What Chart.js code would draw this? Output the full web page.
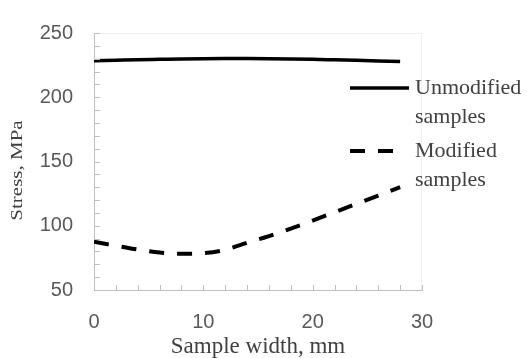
<!DOCTYPE html>
<html>
<head>
<meta charset="utf-8">
<script src="https://cdn.jsdelivr.net/npm/chart.js@4/dist/chart.umd.min.js"></script>
<style>
  html, body { margin: 0; padding: 0; background: #fff; }
  #wrap { width: 527px; height: 358px; }
</style>
</head>
<body>
<div id="wrap"><canvas id="lineChart" width="527" height="358"></canvas></div>
<script>
var widths = [0, 2, 4, 6, 8, 10, 12, 14, 16, 18, 20, 22, 24, 26, 28];
var unmodified = [228.4, 228.8, 229.2, 229.5, 229.8, 230, 230.1, 230.1, 230, 229.8, 229.5, 229.1, 228.7, 228.3, 227.9];
var modified = [87.5, 84.5, 81.5, 79.2, 78.2, 78.7, 81.3, 86.8, 92, 97.8, 104, 110.5, 117, 123.5, 130];
var seriesLabels = [['Unmodified', 'samples'], ['Modified', 'samples']];
var xLabels = [0, 10, 20, 30];
var yLabels = [50, 100, 150, 200, 250];
var yTitle = 'Stress, MPa';

var serif = '"Liberation Serif", "Times New Roman", serif';
var sans = '"Liberation Sans", Arial, sans-serif';

function toPoints(values) {
    return values.map(function(v, i) {
        return { x: widths[i], y: v };
    });
}

// small inward tick marks, faint frame and the y title
var tickMarks = {
    id: 'tickMarks',
    afterDraw: function(chart) {
        var ctx = chart.ctx;
        var xs = chart.scales.x, ys = chart.scales.y;
        var area = chart.chartArea;
        ctx.save();
        ctx.strokeStyle = '#f0f0f0';
        ctx.lineWidth = 1;
        ctx.beginPath();
        ctx.moveTo(area.left, area.top + 0.5);
        ctx.lineTo(area.right - 0.5, area.top + 0.5);
        ctx.lineTo(area.right - 0.5, area.bottom);
        ctx.stroke();

        ctx.strokeStyle = '#bfbfbf';
        ctx.beginPath();
        for (var v = 50; v <= 250; v += 10) {
            var py = Math.round(ys.getPixelForValue(v)) + 0.5;
            ctx.moveTo(area.left, py);
            ctx.lineTo(area.left + 6, py);
        }
        for (var w = 0; w <= 30; w += 2) {
            var px = Math.round(xs.getPixelForValue(w)) + 0.5;
            ctx.moveTo(px, area.bottom);
            ctx.lineTo(px, area.bottom - 5);
        }
        ctx.stroke();

        // y title sits a bit below the middle in the original
        ctx.translate(18, 170.5);
        ctx.rotate(-Math.PI / 2);
        ctx.scale(1, 0.8);
        ctx.fillStyle = '#404040';
        ctx.font = '21px ' + serif;
        ctx.textAlign = 'center';
        ctx.textBaseline = 'middle';
        ctx.fillText(yTitle, 0, 0);
        ctx.restore();
    }
};

// legend on the right, drawn from dataset styles
var sideLegend = {
    id: 'sideLegend',
    afterDraw: function(chart) {
        var ctx = chart.ctx;
        var rows = [88, 151];
        ctx.save();
        chart.data.datasets.forEach(function(ds, i) {
            var y = rows[i];
            ctx.strokeStyle = ds.borderColor;
            ctx.lineWidth = ds.borderWidth;
            ctx.setLineDash(ds.borderDash || []);
            ctx.beginPath();
            ctx.moveTo(350, y);
            ctx.lineTo(i === 0 ? 409 : 397, y);
            ctx.stroke();
            ctx.setLineDash([]);
            ctx.fillStyle = '#404040';
            ctx.font = '22px ' + serif;
            ctx.textBaseline = 'middle';
            ctx.textAlign = 'left';
            ds.label.forEach(function(line, j) {
                ctx.fillText(line, 415, y + j * 29);
            });
        });
        ctx.restore();
    }
};

var ctx = document.getElementById('lineChart').getContext('2d');

var myChart = new Chart(ctx, {
    type: 'line',
    data: {
        datasets: [{
            label: seriesLabels[0],
            data: toPoints(unmodified),
            borderColor: '#000000',
            borderWidth: 3.5,
            pointRadius: 0,
            cubicInterpolationMode: 'monotone',
            fill: false
        }, {
            label: seriesLabels[1],
            data: toPoints(modified),
            borderColor: '#000000',
            borderWidth: 4,
            borderDash: [15, 13],
            pointRadius: 0,
            cubicInterpolationMode: 'monotone',
            fill: false
        }]
    },
    options: {
        responsive: false,
        animation: false,
        events: [],
        layout: {
            padding: { left: 0, top: 21, right: 105, bottom: 0 }
        },
        plugins: {
            legend: { display: false },
            tooltip: { enabled: false }
        },
        scales: {
            x: {
                type: 'linear',
                min: 0,
                max: 30,
                afterBuildTicks: function(scale) {
                    scale.ticks = xLabels.map(function(v) { return { value: v }; });
                },
                afterFit: function(scale) { scale.height = 68; },
                grid: { display: true, drawOnChartArea: false, drawTicks: false },
                border: { display: true, color: '#bfbfbf', width: 1 },
                ticks: {
                    padding: 20,
                    color: '#595959',
                    font: { family: sans, size: 20 },
                    maxRotation: 0
                },
                title: {
                    display: true,
                    text: 'Sample width, mm',
                    color: '#404040',
                    font: { family: serif, size: 23, lineHeight: 1 },
                    padding: { top: 0, bottom: 0 }
                }
            },
            y: {
                min: 50,
                max: 250,
                afterBuildTicks: function(scale) {
                    scale.ticks = yLabels.map(function(v) { return { value: v }; });
                },
                afterFit: function(scale) { scale.width = 94; },
                grid: { display: true, drawOnChartArea: false, drawTicks: false },
                border: { display: true, color: '#bfbfbf', width: 1 },
                ticks: {
                    padding: 21,
                    color: '#595959',
                    font: { family: sans, size: 20 }
                },
                title: { display: false }
            }
        }
    },
    plugins: [tickMarks, sideLegend]
});
</script>
</body>
</html>
